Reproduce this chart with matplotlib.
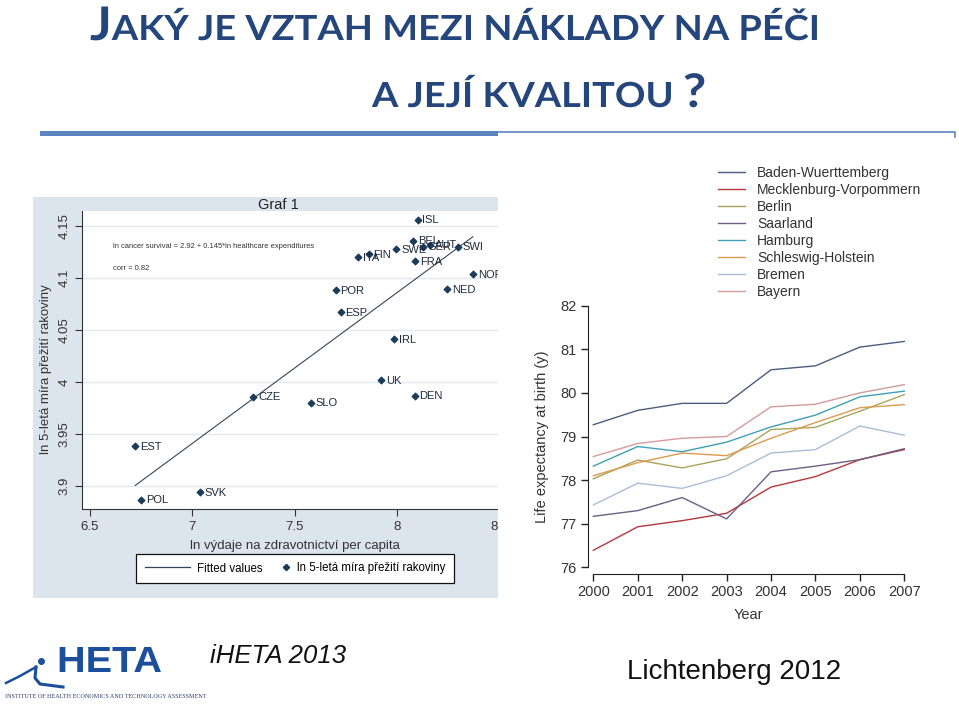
import matplotlib.pyplot as plt
import numpy as np
from matplotlib.patches import Rectangle, PathPatch
from matplotlib.textpath import TextPath, text_to_path
from matplotlib.font_manager import FontProperties
from matplotlib.transforms import Affine2D
from matplotlib.lines import Line2D
from matplotlib.legend_handler import HandlerLine2DCompound

W, H = 959, 706

# Graf 1: ln spending vs ln 5-year cancer survival
countries = ['ISL', 'BEL', 'GER', 'AUT', 'SWI', 'SWE', 'FIN', 'ITA', 'FRA', 'NOR', 'NED',
             'POR', 'ESP', 'IRL', 'UK', 'DEN', 'CZE', 'SLO', 'EST', 'POL', 'SVK']
ln_spend = [8.100, 8.078, 8.124, 8.163, 8.295, 7.996, 7.861, 7.811, 8.087, 8.370, 8.246,
            7.700, 7.724, 7.983, 7.923, 8.085, 7.297, 7.578, 6.721, 6.750, 7.035]
ln_surv = [4.156, 4.136, 4.130, 4.132, 4.130, 4.128, 4.123, 4.120, 4.116, 4.104, 4.089,
           4.088, 4.067, 4.041, 4.002, 3.987, 3.986, 3.980, 3.938, 3.887, 3.894]
fit_a, fit_b = 2.926, 0.145

# Lichtenberg: life expectancy by Land
years = [2000, 2001, 2002, 2003, 2004, 2005, 2006, 2007]
baden = [79.27, 79.60, 79.76, 79.76, 80.53, 80.62, 81.05, 81.18]
meck = [76.39, 76.93, 77.07, 77.24, 77.84, 78.08, 78.47, 78.70]
berlin = [78.03, 78.46, 78.28, 78.49, 79.16, 79.21, 79.58, 79.96]
saarland = [77.17, 77.30, 77.60, 77.11, 78.19, 78.32, 78.47, 78.72]
hamburg = [78.32, 78.77, 78.65, 78.87, 79.22, 79.49, 79.91, 80.04]
schleswig = [78.10, 78.40, 78.62, 78.56, 78.96, 79.32, 79.66, 79.73]
bremen = [77.43, 77.93, 77.81, 78.10, 78.62, 78.70, 79.24, 79.03]
bayern = [78.54, 78.84, 78.96, 79.00, 79.68, 79.74, 80.00, 80.19]
lands = ['Baden-Wuerttemberg', 'Mecklenburg-Vorpommern', 'Berlin', 'Saarland',
         'Hamburg', 'Schleswig-Holstein', 'Bremen', 'Bayern']
land_colors = ['#4a5d7e', '#b5383c', '#a8a45a', '#6f5d87',
               '#3f9fb5', '#dc9a4e', '#a9bdd8', '#d59a9c']

plt.rcParams['font.family'] = ['Liberation Sans', 'DejaVu Sans']

fig = plt.figure(figsize=(W / 100, H / 100), dpi=100)


def fx(px):
    return px / W


def fy(py):
    return 1 - py / H


def squeezed(s, x, base, size, sx, prop, color):
    # draw text as a path, narrowed horizontally; returns the new x
    tp = TextPath((0, 0), s, size=size, prop=prop)
    tr = Affine2D().scale(sx / W, 1 / H).translate(x / W, 1 - base / H) + fig.transFigure
    fig.add_artist(PathPatch(tp, facecolor=color, edgecolor='none', transform=tr))
    p = prop.copy()
    p.set_size(size)
    w = text_to_path.get_text_width_height_descent(s, p, ismath=False)[0]
    return x + w * sx


def cap_ratio(prop):
    return TextPath((0, 0), 'H', size=100, prop=prop).get_extents().height / 100


# ---- title
title_blue = '#24467d'
tprop = FontProperties(family=['Lato', 'Open Sans', 'DejaVu Sans'], weight='bold')
cr = cap_ratio(tprop)
big, small = 33.5 / cr, 25 / cr
rest1 = 'AKÝ JE VZTAH MEZI NÁKLADY NA PÉČI'
p_big, p_small = tprop.copy(), tprop.copy()
p_big.set_size(big)
p_small.set_size(small)
nat = (text_to_path.get_text_width_height_descent('J', p_big, ismath=False)[0]
       + text_to_path.get_text_width_height_descent(rest1, p_small, ismath=False)[0])
sx = 730 / nat
x = squeezed('J', 90, 40, big, sx, tprop, title_blue)
squeezed(rest1, x, 40, small, sx, tprop, title_blue)
x = squeezed('A JEJÍ KVALITOU ', 372, 107, small, sx, tprop, title_blue)
squeezed('?', x, 107, big, sx, tprop, title_blue)

# rule under the title
fig.add_artist(Rectangle((fx(40), fy(136)), fx(498) - fx(40), 5 / H,
                         facecolor='#5b84c0', edgecolor='none', transform=fig.transFigure))
fig.add_artist(Line2D([fx(498), fx(955), fx(955)], [fy(131.5), fy(131.5), fy(137)],
                      color='#5b84c0', lw=1.2, transform=fig.transFigure))

# ---- left panel (Graf 1)
fig.add_artist(Rectangle((fx(33), fy(598)), fx(498) - fx(33), (598 - 197) / H,
                         facecolor='#dce5ed', edgecolor='none', transform=fig.transFigure,
                         zorder=-1))
ax1 = fig.add_axes([fx(82), fy(509), (499.5 - 82) / W, (509 - 211) / H])
ax1.set_facecolor('white')
dot_col = '#1c3b5a'
ax1.scatter(ln_spend, ln_surv, marker='D', s=11, color=dot_col, zorder=3,
            label='ln 5-letá míra přežití rakoviny')
for c, xv, yv in zip(countries, ln_spend, ln_surv):
    ax1.annotate(c, (xv, yv), xytext=(3.5, -0.5), textcoords='offset points',
                 va='center', fontsize=8, color='#1e2a3a')
xs = np.array([min(ln_spend), max(ln_spend)])
ax1.plot(xs, fit_a + fit_b * xs, color='#34465a', lw=0.8, label='Fitted values')

ax1.set_xlim(6.461, 8.5)
ax1.set_ylim(3.8779, 4.1644)
ax1.set_xticks([6.5, 7, 7.5, 8, 8.5], ['6.5', '7', '7.5', '8', '8.5'])
ax1.set_yticks([3.9, 3.95, 4.0, 4.05, 4.1, 4.15],
               ['3.9', '3.95', '4', '4.05', '4.1', '4.15'], rotation=90, va='center')
ax1.grid(axis='y', color='#e2e9ef', lw=1)
ax1.set_axisbelow(True)
for s in ['top', 'right']:
    ax1.spines[s].set_visible(False)
for s in ['left', 'bottom']:
    ax1.spines[s].set_color('#333333')
ax1.tick_params(length=5, width=0.8, color='#333333', labelsize=9.5, labelcolor='#333333')
ax1.set_ylabel('ln 5-letá míra přežití rakoviny', fontsize=9.5, color='#333333')
ax1.yaxis.set_label_coords(-0.072, 0.47)
ax1.set_xlabel('ln výdaje na zdravotnictví per capita', fontsize=9.5, color='#333333')
ax1.xaxis.set_label_coords(0.51, -0.104)

fig.text(fx(278), fy(205), 'Graf 1', ha='center', va='center', fontsize=10.5, color='#222222')
fig.text(fx(113), fy(246), 'ln cancer survival = 2.92 + 0.145*ln healthcare expenditures',
         fontsize=5.4, va='center', color='#333333')
fig.text(fx(113), fy(268), 'corr = 0.82', fontsize=5.4, va='center', color='#333333')


class HandlerRightMarker(HandlerLine2DCompound):
    # marker sits near the text instead of the handle centre
    def get_xdata(self, legend, xdescent, ydescent, width, height, fontsize):
        xdata, _ = super().get_xdata(legend, xdescent, ydescent, width, height, fontsize)
        return xdata, np.array([width - xdescent - 0.3 * fontsize])


h_fit = Line2D([], [], color='#34465a', lw=0.9)
h_dot = Line2D([], [], marker='D', ls='none', color=dot_col, ms=3.2)
leg1 = ax1.legend([h_fit, h_dot], ['Fitted values', 'ln 5-letá míra přežití rakoviny'],
                  ncol=2, loc='center', bbox_to_anchor=(fx(295), fy(568.5)),
                  bbox_transform=fig.transFigure, fontsize=8.3, frameon=True,
                  fancybox=False, edgecolor='#111111', framealpha=1, handlelength=3.9,
                  handletextpad=0.6, columnspacing=-1.5, borderpad=0.75,
                  handler_map={h_dot: HandlerRightMarker(numpoints=1)})
leg1.get_frame().set_linewidth(0.9)

# crop the left panel at its right edge
fig.add_artist(Rectangle((fx(498), fy(600)), 25 / W, 420 / H, facecolor='white',
                         edgecolor='none', transform=fig.transFigure, zorder=10))

# ---- right chart (Lichtenberg)
ax2 = fig.add_axes([fx(588), fy(574.3), (909.6 - 588) / W, (574.3 - 298.7) / H])
series = [baden, meck, berlin, saarland, hamburg, schleswig, bremen, bayern]
for name, vals, col in zip(lands, series, land_colors):
    ax2.plot(years, vals, color=col, lw=1, label=name)
ax2.set_xlim(1999.88, 2007.12)
ax2.set_ylim(75.84, 82.16)
ax2.set_xticks(years)
ax2.set_yticks([76, 77, 78, 79, 80, 81, 82])
for s in ['top', 'right']:
    ax2.spines[s].set_visible(False)
ax2.spines['left'].set_bounds(76, 82)
ax2.spines['bottom'].set_bounds(2000, 2007)
for s in ['left', 'bottom']:
    ax2.spines[s].set_color('#222222')
ax2.tick_params(length=5, width=1, color='#222222', labelsize=10.5, labelcolor='#333333',
                pad=3)
ax2.set_xlabel('Year', fontsize=10.5, color='#333333', labelpad=6)
ax2.set_ylabel('Life expectancy at birth (y)', fontsize=10.5, color='#333333', labelpad=8)
ax2.legend(loc='upper left', bbox_to_anchor=(fx(712.5), fy(160.5)),
           bbox_transform=fig.transFigure, frameon=False, fontsize=10,
           handlelength=1.94, handletextpad=0.86, labelspacing=0.215, borderaxespad=0,
           labelcolor='#333333')

# ---- footer
fig.text(fx(210), fy(663), 'iHETA 2013', fontsize=18.5, style='italic', va='baseline',
         color='#111111')
fig.text(fx(627), fy(679), 'Lichtenberg 2012', fontsize=20, va='baseline', color='#111111')

logo_blue = '#1b4f9c'
lprop = FontProperties(family=['Liberation Sans', 'DejaVu Sans'], weight='bold')
lsize = 25 / cap_ratio(lprop)
lp = lprop.copy()
lp.set_size(lsize)
lw_nat = text_to_path.get_text_width_height_descent('HETA', lp, ismath=False)[0]
squeezed('HETA', 57, 672, lsize, 105 / lw_nat, lprop, logo_blue)
fig.add_artist(Line2D([fx(6), fx(20), fx(36)], [fy(683), fy(676), fy(667)],
                      color=logo_blue, lw=1.8, transform=fig.transFigure))
fig.add_artist(Line2D([fx(36), fx(35), fx(40), fx(63)], [fy(667), fy(678), fy(684), fy(687)],
                      color=logo_blue, lw=2.2, transform=fig.transFigure))
fig.add_artist(Line2D([fx(41)], [fy(661)], marker='o', ms=4, color=logo_blue,
                      transform=fig.transFigure))
fig.text(fx(5), fy(697), 'INSTITUTE OF HEALTH ECONOMICS AND TECHNOLOGY ASSESSMENT',
         fontsize=4.4, family=['Liberation Serif', 'DejaVu Serif'], va='center',
         color='#2a3f6a')

fig.savefig('out.png', dpi=100)
